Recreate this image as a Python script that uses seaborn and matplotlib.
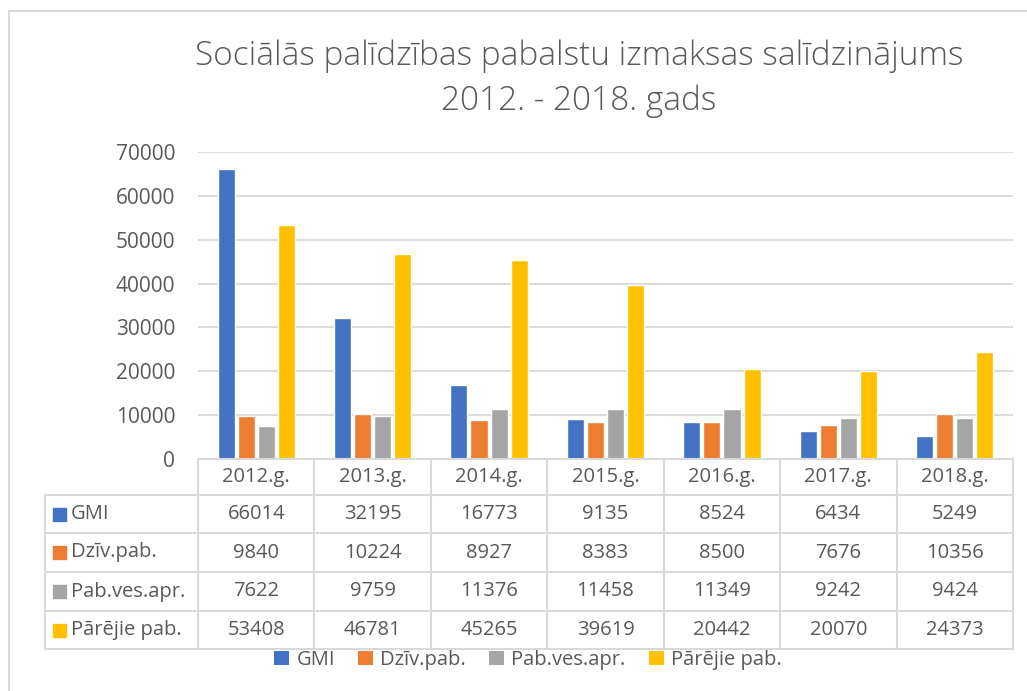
import numpy as np
import pandas as pd
import matplotlib.pyplot as plt
from matplotlib.patches import Patch
from matplotlib.lines import Line2D
import seaborn as sns

# Data
years = ["2012.g.", "2013.g.", "2014.g.", "2015.g.", "2016.g.", "2017.g.", "2018.g."]
series = ["GMI", "Dzīv.pab.", "Pab.ves.apr.", "Pārējie pab."]
gmi = [66014, 32195, 16773, 9135, 8524, 6434, 5249]
dziv = [9840, 10224, 8927, 8383, 8500, 7676, 10356]
pabves = [7622, 9759, 11376, 11458, 11349, 9242, 9424]
parejie = [53408, 46781, 45265, 39619, 20442, 20070, 24373]
colors = ["#4472c4", "#ed7d31", "#a5a5a5", "#ffc000"]

values = [gmi, dziv, pabves, parejie]
df = pd.DataFrame({
    "year": np.tile(years, len(series)),
    "series": np.repeat(series, len(years)),
    "value": np.concatenate(values),
})

sns.set_style("white")
plt.rcParams['font.family'] = ['Open Sans', 'DejaVu Sans']
text_col = "#595959"
grid_col = "#d9d9d9"
fs = 14.5

W, H = 1027, 691
fig = plt.figure(figsize=(W / 100, H / 100), dpi=100)

def fx(px):
    return px / W

def fy(py):
    return 1 - py / H

# main plot area
left, right, top, bottom = 198, 1013, 152, 459
ax = fig.add_axes([fx(left), fy(bottom), fx(right - left), (bottom - top) / H])
sns.barplot(data=df, x="year", y="value", hue="series", palette=colors,
            width=0.69, gap=0.15, ax=ax, legend=False, saturation=1)
ax.set_ylim(0, 70000)
ax.set_xlim(-0.5, len(years) - 0.5)
ax.set_yticks(range(0, 70001, 10000))
ax.set_yticklabels([str(v) for v in range(0, 70001, 10000)], fontsize=15, color=text_col)
ax.set_xticks([])
ax.set_xlabel("")
ax.set_ylabel("")
ax.tick_params(axis="y", length=0, pad=16.5)
ax.yaxis.grid(True, color=grid_col, linewidth=1.3)
ax.set_axisbelow(True)
for s in ax.spines.values():
    s.set_visible(False)

# data table below the plot
tab_left = 45
row_y = [459, 495, 533, 572, 611, 649]
col_w = (right - left) / len(years)
col_x = [left + i * col_w for i in range(len(years) + 1)]
line_kw = dict(color=grid_col, linewidth=1.5, transform=fig.transFigure)

# horizontal lines
fig.add_artist(Line2D([fx(left), fx(right)], [fy(row_y[0])] * 2, **line_kw))
for y in row_y[1:]:
    fig.add_artist(Line2D([fx(tab_left), fx(right)], [fy(y)] * 2, **line_kw))
# vertical lines
for x in col_x:
    fig.add_artist(Line2D([fx(x)] * 2, [fy(row_y[0]), fy(row_y[-1])], **line_kw))
fig.add_artist(Line2D([fx(tab_left)] * 2, [fy(row_y[1]), fy(row_y[-1])], **line_kw))

# header row
for i, yr in enumerate(years):
    fig.text(fx(col_x[i] + col_w / 2), fy((row_y[0] + row_y[1]) / 2), yr,
             ha="center", va="center", fontsize=fs, color=text_col)

# data rows
for r, (name, vals, c) in enumerate(zip(series, values, colors)):
    yc = fy((row_y[r + 1] + row_y[r + 2]) / 2)
    fig.patches.append(plt.Rectangle((fx(53), yc - 6.5 / H), 13 / W, 13 / H,
                                     color=c, transform=fig.transFigure))
    fig.text(fx(71), yc, name, ha="left", va="center", fontsize=fs, color=text_col)
    for i, v in enumerate(vals):
        fig.text(fx(col_x[i] + col_w / 2), yc, str(v),
                 ha="center", va="center", fontsize=fs, color=text_col)

# legend
handles = [Patch(facecolor=c, edgecolor="none") for c in colors]
fig.legend(handles, series, loc="center", bbox_to_anchor=(fx(528), fy(660)),
           ncol=4, frameon=False, fontsize=fs, labelcolor=text_col,
           handlelength=0.75, handleheight=0.75, handletextpad=0.35, columnspacing=1.15)

# title
title_fs = 24
fig.text(fx(579), fy(56), "Sociālās palīdzības pabalstu izmaksas salīdzinājums",
         ha="center", va="center", fontsize=title_fs, color=text_col, fontweight="light")
fig.text(fx(579), fy(101), "2012. - 2018. gads",
         ha="center", va="center", fontsize=title_fs, color=text_col, fontweight="light")

# chart frame
fig.add_artist(Line2D([fx(9), 1], [fy(11)] * 2, color=grid_col, linewidth=1.5,
                      transform=fig.transFigure))
fig.add_artist(Line2D([fx(9)] * 2, [fy(11), 0], color=grid_col, linewidth=1.5,
                      transform=fig.transFigure))

fig.savefig("out.png", dpi=100)
